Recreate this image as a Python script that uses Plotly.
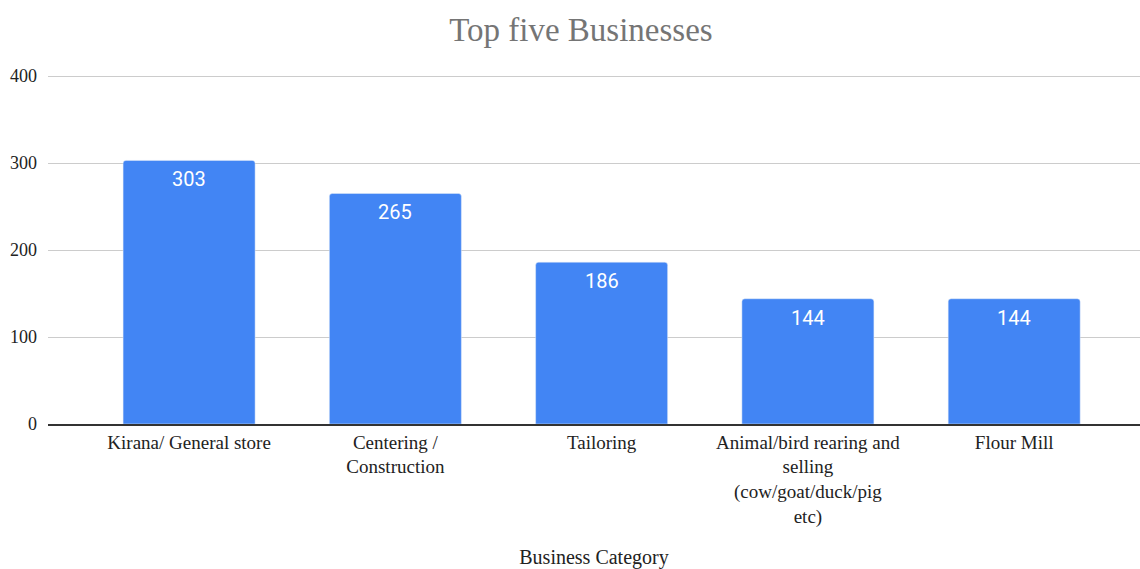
import plotly.graph_objects as go

categories = [
    "Kirana/ General store",
    "Centering /<br>Construction",
    "Tailoring",
    "Animal/bird rearing and<br>selling<br>(cow/goat/duck/pig<br>etc)",
    "Flour Mill",
]
values = [303, 265, 186, 144, 144]
y_ticks = [0, 100, 200, 300, 400]

serif = "Liberation Serif, Times New Roman, serif"
x_pos = list(range(len(categories)))

fig = go.Figure(
    go.Bar(
        x=x_pos,
        y=values,
        marker=dict(color="#4285F4", cornerradius=3),
        width=0.64,
        hoverinfo="skip",
    )
)

for xi, v in zip(x_pos, values):
    fig.add_annotation(
        x=xi, y=v, text=str(v), showarrow=False,
        yanchor="middle", yshift=-19,
        font=dict(family="Roboto, Arial, sans-serif", size=20, color="white"),
    )

fig.update_layout(
    width=1140,
    height=569,
    margin=dict(l=48, r=0, t=74, b=145),
    paper_bgcolor="white",
    plot_bgcolor="white",
    title=dict(
        text="Top five Businesses",
        x=0.5096,
        xanchor="center",
        y=0.948,
        yanchor="middle",
        font=dict(family=serif, size=33, color="#757575"),
    ),
    showlegend=False,
    xaxis=dict(
        tickmode="array",
        tickvals=x_pos,
        ticktext=categories,
        range=[-0.684, 4.61],
        automargin=False,
        showgrid=False,
        showline=True,
        linecolor="#333333",
        linewidth=1.5,
        ticks="",
        ticklabelstandoff=0,
        tickfont=dict(family=serif, size=19, color="#222222"),
        title=dict(
            text="Business Category",
            font=dict(family=serif, size=20, color="#222222"),
            standoff=30,
        ),
    ),
    yaxis=dict(
        range=[0, 402.3],
        tickvals=y_ticks,
        automargin=False,
        showgrid=True,
        gridcolor="#cccccc",
        gridwidth=1,
        zeroline=False,
        ticks="",
        ticklabelstandoff=10,
        tickfont=dict(family=serif, size=18, color="#222222"),
    ),
)

fig.write_html("out.html")
